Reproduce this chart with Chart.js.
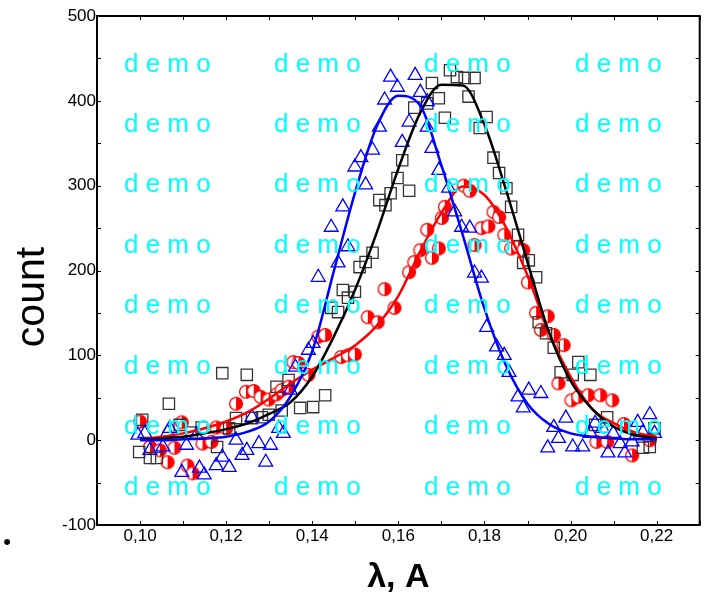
<!DOCTYPE html>
<html><head><meta charset="utf-8">
<script src="https://cdn.jsdelivr.net/npm/chart.js@4/dist/chart.umd.min.js"></script>
<style>html,body{margin:0;padding:0;background:#fff;}#wrap{position:relative;width:709px;height:595px;}</style>
</head><body><div id="wrap"><canvas id="c" width="709" height="595"></canvas></div>
<script>
const xTicks = [0.10, 0.12, 0.14, 0.16, 0.18, 0.20, 0.22];
const yTicks = [-100, 0, 100, 200, 300, 400, 500];

// fitted curves
const fitX = [0.100,0.105,0.110,0.115,0.120,0.125,0.130,0.135,0.140,0.145,0.150,0.155,0.160,0.165,0.170,0.175,0.180,0.185,0.190,0.195,0.200,0.205,0.210,0.215,0.220];
const fitBlue  = [0,0,1,2,4,10,22,52,105,199,293,370,406,395,324,241,155,88,43,19,8,4,2,1,1];
const fitBlack = [1,2,4,8,13,20,31,45,75,122,178,245,320,385,419,418,372,295,210,127,70,37,16,6,2];
const fitRed   = [1,4,8,14,22,33,49,67,83,97,112,135,170,222,268,299,289,251,194,127,75,37,20,9,4];

// triangles (blue)
const triX = [0.0995,0.1011,0.1023,0.1053,0.1064,0.1069,0.1097,0.1108,0.1131,0.1138,0.1149,0.1177,0.1191,0.1207,0.1223,0.1237,0.1248,0.1260,0.1276,0.1292,0.1303,0.1322,0.1333,0.1349,0.1361,0.1391,0.1402,0.1414,0.1444,0.1460,0.1471,0.1483,0.1499,0.1513,0.1524,0.1540,0.1556,0.1568,0.1582,0.1598,0.1609,0.1625,0.1639,0.1651,0.1667,0.1667,0.1678,0.1694,0.1717,0.1731,0.1747,0.1766,0.1777,0.1793,0.1805,0.1828,0.1846,0.1857,0.1878,0.1890,0.1903,0.1931,0.1947,0.1961,0.1972,0.1989,0.2005,0.2028,0.2046,0.2057,0.2074,0.2087,0.2099,0.2115,0.2126,0.2143,0.2156,0.2168,0.2184,0.2195];
const triY = [6,8,-12,-8,9,14,-38,-6,6,-33,-41,-30,-20,-32,0,-18,-12,27,-4,-26,-6,14,8,59,86,106,114,192,251,209,275,228,322,333,301,342,369,401,428,416,351,375,430,410,399,369,344,318,297,269,251,250,197,191,133,110,100,80,51,38,59,55,-9,15,2,26,-8,-8,8,20,14,-15,8,-4,-15,-2,21,9,30,8];

// squares (black)
const sqX = [0.0998,0.1005,0.1023,0.1039,0.1067,0.1092,0.1120,0.1143,0.1179,0.1191,0.1207,0.1223,0.1248,0.1260,0.1283,0.1299,0.1317,0.1329,0.1345,0.1372,0.1402,0.1430,0.1444,0.1460,0.1471,0.1483,0.1499,0.1510,0.1524,0.1540,0.1556,0.1570,0.1582,0.1598,0.1609,0.1625,0.1637,0.1667,0.1678,0.1694,0.1708,0.1720,0.1736,0.1754,0.1763,0.1777,0.1789,0.1805,0.1821,0.1834,0.1851,0.1862,0.1878,0.1890,0.1903,0.1920,0.1926,0.1943,0.1961,0.1977,0.2005,0.2018,0.2046,0.2057,0.2085,0.2168,0.2184,0.2195];
const sqY = [-14,24,-21,-21,43,18,9,15,-8,79,14,26,77,26,27,30,63,35,71,38,39,53,156,151,177,168,175,204,210,221,283,277,291,309,330,294,392,397,421,403,380,436,428,427,405,427,368,381,333,315,297,275,242,209,212,192,139,126,109,80,77,92,77,18,27,-9,-8,14];

// half-filled circles (red)
const circX = [0.1000,0.1023,0.1046,0.1064,0.1080,0.1097,0.1110,0.1122,0.1145,0.1166,0.1177,0.1200,0.1223,0.1246,0.1264,0.1280,0.1299,0.1317,0.1329,0.1345,0.1356,0.1368,0.1391,0.1414,0.1430,0.1467,0.1483,0.1499,0.1529,0.1552,0.1568,0.1591,0.1625,0.1637,0.1651,0.1667,0.1678,0.1694,0.1701,0.1708,0.1752,0.1766,0.1777,0.1793,0.1809,0.1821,0.1834,0.1846,0.1862,0.1878,0.1890,0.1901,0.1920,0.1931,0.1947,0.1961,0.1984,0.1972,0.2002,0.2018,0.2041,0.2069,0.2097,0.2060,0.2085,0.2124,0.2143,0.2184];
const circY = [22,-8,-12,-26,-9,21,-30,-39,-4,-2,15,14,43,57,58,51,48,54,59,63,92,91,77,122,124,98,100,101,145,139,178,156,198,210,224,248,215,226,262,275,300,294,230,250,252,269,263,242,226,228,224,186,150,130,146,124,112,67,47,51,53,53,47,-2,-2,19,-18,0];

const watermarkText = 'd e m o';
const FONT = "'Liberation Sans', Arial, sans-serif";

function halfCircle() {
  const s = 16, c = document.createElement('canvas');
  c.width = s; c.height = s;
  const g = c.getContext('2d');
  const r = 6.4, cx = 8, cy = 8;
  g.fillStyle = '#ffffff';
  g.beginPath(); g.arc(cx, cy, r, 0, Math.PI * 2); g.fill();
  g.beginPath(); g.arc(cx, cy, r, -Math.PI / 2, Math.PI / 2); g.closePath();
  g.fillStyle = '#ff0000'; g.fill();
  g.beginPath(); g.arc(cx, cy, r, 0, Math.PI * 2);
  g.strokeStyle = '#ff0000'; g.lineWidth = 1.3; g.stroke();
  return c;
}

const pts = (xs, ys) => xs.map((x, i) => ({x: x, y: ys[i]}));

const framePlugin = {
  id: 'frame',
  afterDatasetsDraw(chart) {
    const {ctx, chartArea: a, scales} = chart;
    ctx.save();
    ctx.strokeStyle = '#000'; ctx.lineWidth = 2;
    ctx.strokeRect(a.left, a.top, a.right - a.left, a.bottom - a.top);
    ctx.lineWidth = 1;
    ctx.beginPath();
    for (let v = 0.09; v <= 0.2301; v += 0.01) {
      const px = Math.round(scales.x.getPixelForValue(v)) + 0.5;
      ctx.moveTo(px, a.bottom); ctx.lineTo(px, a.bottom - 4);
      ctx.moveTo(px, a.top); ctx.lineTo(px, a.top + 4);
    }
    for (let v = -100; v <= 500; v += 50) {
      const py = Math.round(scales.y.getPixelForValue(v)) + 0.5;
      ctx.moveTo(a.left, py); ctx.lineTo(a.left + 4, py);
      ctx.moveTo(a.right, py); ctx.lineTo(a.right - 4, py);
    }
    ctx.stroke();
    ctx.restore();
  },
  afterDraw(chart) {
    const ctx = chart.ctx;
    ctx.save();
    ctx.fillStyle = '#00ffff';
    ctx.font = '26px ' + FONT;
    ctx.textAlign = 'left'; ctx.textBaseline = 'alphabetic';
    const cols = [124, 274, 424, 575];
    const rows = [72, 132, 192, 253, 313, 374, 434, 495];
    rows.forEach(y => cols.forEach(x => ctx.fillText(watermarkText, x, y)));
    ctx.fillStyle = '#000';
    ctx.font = '41px ' + FONT;
    ctx.textAlign = 'center'; ctx.textBaseline = 'middle';
    ctx.translate(33, 297); ctx.rotate(-Math.PI / 2);
    ctx.fillText('count', 0, 0);
    ctx.restore();
    ctx.save();
    ctx.fillStyle = '#000';
    ctx.font = '22px ' + FONT;
    ctx.textAlign = 'center'; ctx.textBaseline = 'middle';
    ctx.fillText('\u2022', 7, 543);
    ctx.restore();
  }
};

new Chart(document.getElementById('c'), {
  type: 'scatter',
  data: {
    datasets: [
      {data: pts(fitX, fitBlue), showLine: true, borderColor: '#0000ff', borderWidth: 2.5, pointRadius: 0, cubicInterpolationMode: 'monotone', order: 0},
      {data: pts(fitX, fitBlack), showLine: true, borderColor: '#000000', borderWidth: 2.5, pointRadius: 0, cubicInterpolationMode: 'monotone', order: 0},
      {data: pts(fitX, fitRed), showLine: true, borderColor: '#ff0000', borderWidth: 2.5, pointRadius: 0, cubicInterpolationMode: 'monotone', order: 0},
      {data: pts(circX, circY), pointStyle: halfCircle(), pointRadius: 7, order: 3},
      {data: pts(sqX, sqY), pointStyle: 'rect', pointRadius: 8, borderColor: '#333333', backgroundColor: 'rgba(0,0,0,0)', borderWidth: 1.3, order: 2},
      {data: pts(triX, triY), pointStyle: 'triangle', pointRadius: 8, borderColor: '#0000ff', backgroundColor: 'rgba(0,0,0,0)', borderWidth: 1.3, order: 1}
    ]
  },
  options: {
    responsive: false, animation: false, devicePixelRatio: 1,
    layout: {padding: {left: 0, right: 5, top: 16, bottom: 0}},
    plugins: {legend: {display: false}, tooltip: {enabled: false}},
    scales: {
      x: {
        type: 'linear', min: 0.09, max: 0.23,
        afterBuildTicks: s => { s.ticks = xTicks.map(v => ({value: v})); },
        afterFit: s => { s.height = 70; },
        grid: {display: false, drawTicks: false},
        border: {display: false},
        ticks: {padding: 1, color: '#000', font: {family: FONT, size: 17}, maxRotation: 0,
          callback: v => v.toFixed(2).replace('.', ',')},
        title: {display: true, text: 'λ, A', color: '#000', font: {family: FONT, size: 34, weight: 'bold', lineHeight: 1}, padding: {top: 0, bottom: 0}}
      },
      y: {
        type: 'linear', min: -100, max: 500,
        afterBuildTicks: s => { s.ticks = yTicks.map(v => ({value: v})); },
        afterFit: s => { s.width = 97; },
        grid: {display: false, drawTicks: false},
        border: {display: false},
        ticks: {padding: 1, color: '#000', font: {family: FONT, size: 17}}
      }
    }
  },
  plugins: [framePlugin]
});
</script></body></html>
